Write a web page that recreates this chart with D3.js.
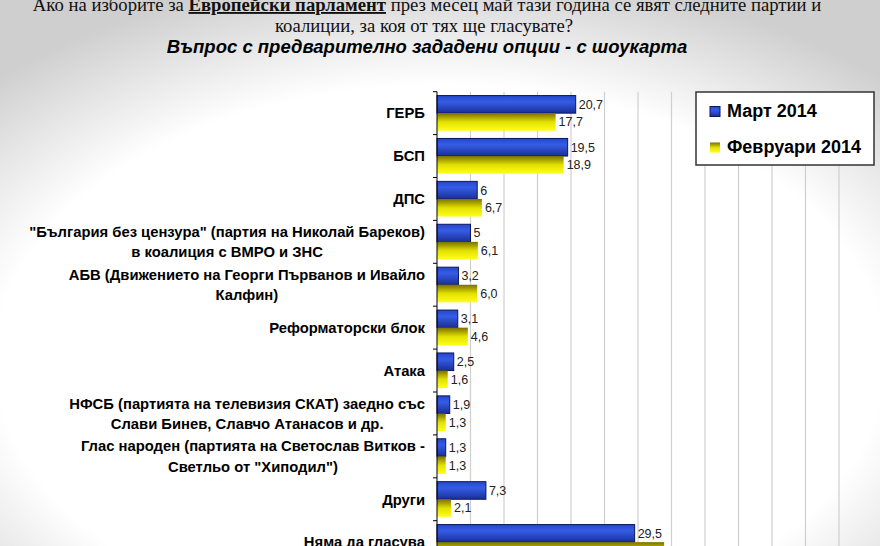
<!DOCTYPE html>
<html><head><meta charset="utf-8">
<script src="https://cdn.jsdelivr.net/npm/d3@7"></script>
<style>body{margin:0;padding:0;overflow:hidden;background:#fff}svg{display:block}</style>
</head><body>
<svg id="chart" width="880" height="546"></svg>
<script>
const categories = [
  ["ГЕРБ"],
  ["БСП"],
  ["ДПС"],
  ["\"България без цензура\" (партия на Николай Бареков)", "в коалиция с ВМРО и ЗНС"],
  ["АБВ (Движението на Георги Първанов и Ивайло", "Калфин)"],
  ["Реформаторски блок"],
  ["Атака"],
  ["НФСБ (партията на телевизия СКАТ) заедно със", "Слави Бинев, Славчо Атанасов и др."],
  ["Глас народен (партията на Светослав Витков -", "Светльо от \"Хиподил\")"],
  ["Други"],
  ["Няма да гласува"]
];
const seriesNames = ["Март 2014", "Февруари 2014"];
const march = [20.7, 19.5, 6, 5, 3.2, 3.1, 2.5, 1.9, 1.3, 7.3, 29.5];
const february = [17.7, 18.9, 6.7, 6.1, 6.0, 4.6, 1.6, 1.3, 1.3, 2.1, 33.9];
const marchLabels = ["20,7", "19,5", "6", "5", "3,2", "3,1", "2,5", "1,9", "1,3", "7,3", "29,5"];
const februaryLabels = ["17,7", "18,9", "6,7", "6,1", "6,0", "4,6", "1,6", "1,3", "1,3", "2,1", "33,9"];
const xTicks = [0, 5, 10, 15, 20, 25, 30, 35, 40, 45, 50, 55, 60];

const svg = d3.select("#chart");
const W = 880, H = 546;
const defs = svg.append("defs");

const bg = defs.append("radialGradient").attr("id", "bg")
  .attr("cx", "50%").attr("cy", "66%").attr("r", "72%");
bg.append("stop").attr("offset", "0.7").attr("stop-color", "#ffffff");
bg.append("stop").attr("offset", "1").attr("stop-color", "#cfcfcf");

const gBlue = defs.append("linearGradient").attr("id", "gBlue").attr("x1", 0).attr("y1", 0).attr("x2", 0).attr("y2", 1);
gBlue.append("stop").attr("offset", "0").attr("stop-color", "#2448c8");
gBlue.append("stop").attr("offset", "0.35").attr("stop-color", "#365ce6");
gBlue.append("stop").attr("offset", "1").attr("stop-color", "#1a2f96");
const gYel = defs.append("linearGradient").attr("id", "gYel").attr("x1", 0).attr("y1", 0).attr("x2", 0).attr("y2", 1);
gYel.append("stop").attr("offset", "0").attr("stop-color", "#7a7000");
gYel.append("stop").attr("offset", "0.5").attr("stop-color", "#e2e000");
gYel.append("stop").attr("offset", "1").attr("stop-color", "#ffff1a");

svg.append("rect").attr("width", W).attr("height", H).attr("fill", "url(#bg)");

// Titles
const t1 = svg.append("text").attr("x", 427).attr("y", 11).attr("text-anchor", "middle")
  .attr("font-family", "Liberation Serif, Times New Roman, serif").attr("font-size", 18.7).attr("fill", "#111");
t1.append("tspan").text("Ако на изборите за ");
t1.append("tspan").attr("font-weight", "bold").attr("text-decoration", "underline").text("Европейски парламент");
t1.append("tspan").text(" през месец май тази година се явят следните партии и");
svg.append("text").attr("x", 424).attr("y", 32).attr("text-anchor", "middle")
  .attr("font-family", "Liberation Serif, Times New Roman, serif").attr("font-size", 18.7).attr("fill", "#111")
  .text("коалиции, за коя от тях ще гласувате?");
svg.append("text").attr("x", 427).attr("y", 53).attr("text-anchor", "middle")
  .attr("font-family", "Liberation Sans, Arial, sans-serif").attr("font-size", 18.5)
  .attr("font-weight", "bold").attr("font-style", "italic").attr("fill", "#000")
  .text("Въпрос с предварително зададени опции - с шоукарта");

// Scales
const step = 42.9;
const x = d3.scaleLinear().domain([0, 60]).range([437, 839]);
const idx = d3.range(categories.length);
const y = d3.scaleBand().domain(idx).range([91.7, 91.7 + step * categories.length]).padding(0);
const ySub = d3.scaleBand().domain([0, 1]).range([0, y.bandwidth()]).paddingInner(0).paddingOuter(0.22);

// Grid
svg.append("g").selectAll("line").data(xTicks.slice(1)).join("line")
  .attr("x1", d => x(d)).attr("x2", d => x(d))
  .attr("y1", y.range()[0]).attr("y2", H)
  .attr("stroke", "#cfcfcf").attr("stroke-width", 1.2);

// Bars
const series = [
  { vals: march, labels: marchLabels, fill: "url(#gBlue)", stroke: "#0c1660" },
  { vals: february, labels: februaryLabels, fill: "url(#gYel)", stroke: "none" }
];
series.forEach((s, si) => {
  const g = svg.append("g");
  g.selectAll("rect").data(idx).join("rect")
    .attr("x", x(0))
    .attr("y", i => y(i) + ySub(si))
    .attr("width", i => x(s.vals[i]) - x(0))
    .attr("height", ySub.bandwidth())
    .attr("fill", s.fill)
    .attr("stroke", s.stroke).attr("stroke-width", 1);
  g.selectAll("text").data(idx).join("text")
    .attr("x", i => x(s.vals[i]) + 3)
    .attr("y", i => y(i) + ySub(si) + ySub.bandwidth() / 2)
    .attr("dy", "0.35em")
    .attr("font-family", "Liberation Sans, Arial, sans-serif").attr("font-size", 12.5).attr("fill", "#222")
    .text(i => s.labels[i]);
});

// Y axis
const yAxisG = svg.append("g");
yAxisG.append("line").attr("x1", x(0)).attr("x2", x(0)).attr("y1", y.range()[0]).attr("y2", H)
  .attr("stroke", "#000").attr("stroke-width", 1);
yAxisG.selectAll("line.tk").data(d3.range(categories.length + 1)).join("line").attr("class", "tk")
  .attr("x1", x(0) - 4).attr("x2", x(0))
  .attr("y1", i => y.range()[0] + i * y.step()).attr("y2", i => y.range()[0] + i * y.step())
  .attr("stroke", "#000");
const labelRight = x(0) - 12;
idx.forEach(i => {
  const lines = categories[i];
  const cy = y(i) + y.bandwidth() / 2;
  const lh = 20.5;
  const nodes = lines.map((ln, k) => yAxisG.append("text")
      .attr("x", labelRight)
      .attr("y", cy + (k - (lines.length - 1) / 2) * lh)
      .attr("dy", "0.36em")
      .attr("text-anchor", "end")
      .attr("font-family", "Liberation Sans, Arial, sans-serif").attr("font-size", 14.8)
      .attr("font-weight", "bold").attr("fill", "#000")
      .text(ln));
  if (lines.length > 1) {
    const w0 = nodes[0].node().getComputedTextLength();
    const center = labelRight - w0 / 2;
    nodes.forEach(n => n.attr("text-anchor", "middle").attr("x", center));
  }
});

// Legend
const lg = svg.append("g");
lg.append("rect").attr("x", 696).attr("y", 92).attr("width", 178).attr("height", 73)
  .attr("fill", "#fff").attr("stroke", "#333").attr("stroke-width", 1.5);
const legY = [117, 153];
seriesNames.forEach((n, k) => {
  lg.append("rect").attr("x", 710).attr("y", legY[k] - 10.5).attr("width", 10).attr("height", 10)
    .attr("fill", series[k].fill).attr("stroke", k === 0 ? "#0c1660" : "none");
  lg.append("text").attr("x", 727).attr("y", legY[k])
    .attr("font-family", "Liberation Sans, Arial, sans-serif").attr("font-size", 18)
    .attr("font-weight", "bold").attr("fill", "#000").text(n);
});
</script>
</body></html>
